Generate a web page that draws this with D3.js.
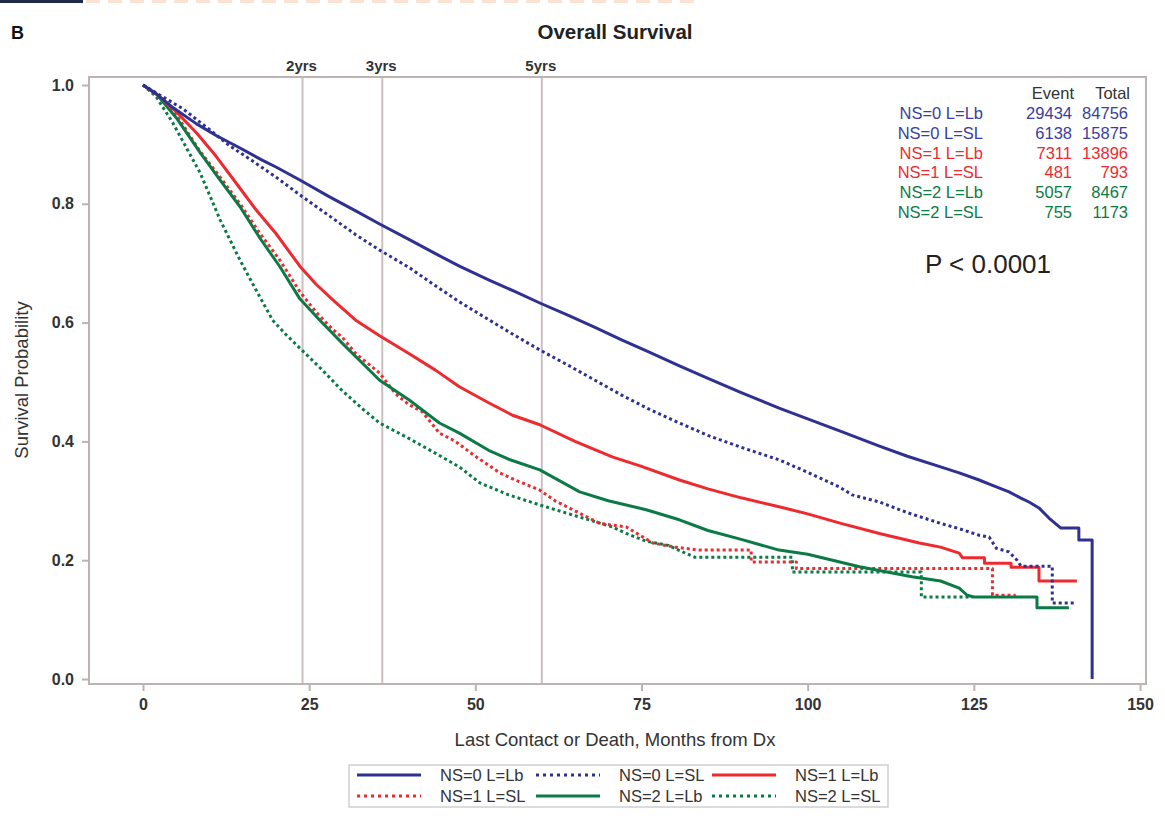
<!DOCTYPE html>
<html><head><meta charset="utf-8">
<script src="https://cdn.jsdelivr.net/npm/d3@7"></script>
<style>
body{margin:0;background:#fff;}
svg text{font-family:"Liberation Sans",Arial,sans-serif;}
</style></head>
<body>
<svg id="c" width="1165" height="822"></svg>
<script>
// ---- data ----
const seriesNames = ["NS=0 L=Lb","NS=0 L=SL","NS=1 L=Lb","NS=1 L=SL","NS=2 L=Lb","NS=2 L=SL"];
const events = [29434, 6138, 7311, 481, 5057, 755];
const totals = [84756, 15875, 13896, 793, 8467, 1173];
const ns0Lb = [[0,1],[2,0.985],[4.5,0.962],[8,0.935],[11,0.915],[14.6,0.894],[18,0.873],[20,0.862],[23.6,0.840],[28,0.812],[32,0.788],[35.6,0.766],[40,0.740],[44,0.716],[47.6,0.695],[52,0.672],[56,0.652],[59.7,0.633],[64,0.612],[68,0.592],[72,0.571],[76,0.551],[80.7,0.527],[85,0.506],[90,0.482],[95.7,0.456],[100,0.438],[105,0.417],[110.8,0.392],[115,0.375],[120,0.357],[122.8,0.347],[125.8,0.335],[128,0.325],[130.3,0.315],[132,0.305],[133.3,0.298],[134.8,0.288],[136.3,0.271],[138.1,0.254],[140.8,0.254],[140.8,0.234],[142.8,0.234],[142.8,0.0]];
const ns0SL = [[0,1],[3,0.98],[6,0.96],[10,0.925],[13,0.898],[16.1,0.875],[20,0.845],[23.6,0.815],[28,0.78],[32,0.748],[35.6,0.722],[40,0.693],[44,0.662],[47.6,0.635],[52,0.605],[56,0.578],[59.7,0.554],[64,0.528],[68,0.503],[72,0.478],[76,0.455],[80.7,0.431],[85,0.41],[90,0.39],[95.7,0.369],[100,0.348],[104.8,0.323],[106.7,0.310],[110.8,0.298],[115,0.28],[120,0.262],[122.8,0.253],[125.8,0.242],[127.3,0.239],[128.4,0.220],[130.3,0.214],[131.5,0.200],[132.1,0.190],[136.8,0.190],[136.8,0.128],[140.4,0.128]];
const ns1Lb = [[0,1],[2,0.985],[5,0.955],[8,0.92],[11,0.88],[14,0.835],[17,0.79],[20,0.75],[23.6,0.695],[26,0.665],[28.6,0.638],[30,0.624],[32,0.604],[35.6,0.578],[40,0.548],[44,0.52],[47.6,0.492],[52,0.465],[55.6,0.444],[59.7,0.428],[65,0.40],[70.6,0.374],[75,0.358],[80.7,0.335],[85,0.32],[90,0.305],[95.7,0.290],[100,0.278],[105,0.262],[110.8,0.245],[116.8,0.229],[120,0.222],[122.8,0.212],[123.3,0.204],[126.6,0.204],[126.6,0.195],[130.6,0.195],[130.6,0.188],[134.8,0.188],[134.8,0.165],[140.5,0.165]];
const ns1SL = [[0,1],[2,0.985],[5,0.95],[8.6,0.888],[11.6,0.845],[14.6,0.80],[17.6,0.75],[20.6,0.705],[23.6,0.652],[26,0.618],[28.6,0.588],[30,0.575],[32,0.548],[35.6,0.515],[38,0.48],[40,0.462],[42,0.45],[44.6,0.414],[47,0.40],[50,0.375],[53.7,0.347],[56,0.335],[59.7,0.318],[62,0.30],[65.7,0.279],[68.7,0.262],[72.7,0.256],[76.7,0.229],[80,0.222],[83.7,0.217],[91.5,0.217],[91.5,0.197],[98.3,0.197],[98.3,0.186],[127.8,0.186],[127.8,0.141],[131.3,0.141]];
const ns2Lb = [[0,1],[2,0.985],[5,0.945],[8.6,0.886],[11.6,0.84],[14.6,0.795],[17.6,0.742],[20.6,0.694],[23.6,0.640],[26.6,0.604],[30,0.565],[35.6,0.503],[40,0.47],[44.6,0.431],[47.6,0.414],[52,0.385],[55,0.37],[59.7,0.352],[65.7,0.315],[70,0.30],[75.7,0.285],[80.7,0.268],[85,0.25],[90,0.235],[95.7,0.217],[100,0.21],[107.8,0.189],[115.7,0.172],[120,0.165],[122.8,0.153],[124,0.141],[125,0.138],[134.5,0.138],[134.5,0.120],[139.3,0.120]];
const ns2SL = [[0,1],[2,0.98],[4.5,0.936],[6.5,0.895],[8.6,0.852],[11.6,0.773],[14.6,0.705],[17,0.655],[19.5,0.604],[21.5,0.58],[23.6,0.557],[27,0.52],[30,0.485],[33,0.455],[35.6,0.431],[40,0.405],[44,0.38],[47.6,0.357],[50.7,0.330],[55,0.31],[59.7,0.293],[65,0.275],[70.6,0.256],[72.7,0.245],[75.7,0.232],[79,0.225],[83,0.205],[97.7,0.205],[97.7,0.180],[117.1,0.180],[117.1,0.138],[124.8,0.138]];
const xTicks = [0,25,50,75,100,125,150];
const yTicks = [0,0.2,0.4,0.6,0.8,1.0];
const refLines = [24,36,60];
const refLabels = ["2yrs","3yrs","5yrs"];

// ---- styles ----
const colors = ["#2e3192","#2e3192","#ee2a2e","#ee2a2e","#0b7a46","#0b7a46"];
const dashed = [false,true,false,true,false,true];
const allSeries = [ns0Lb, ns0SL, ns1Lb, ns1SL, ns2Lb, ns2SL];
const frameCol = "#bdb3b3";
const txt = "#333";

const svg = d3.select("#c");
const x = d3.scaleLinear().domain([0,150]).range([143,1140]);
const y = d3.scaleLinear().domain([0,1]).range([679,85]);
const L = 89, R = 1146, T = 77, B = 684;

// top decoration
svg.append("rect").attr("x",0).attr("y",0).attr("width",83).attr("height",3).attr("fill","#1f2a4a");
svg.append("line").attr("x1",86).attr("x2",700).attr("y1",1.5).attr("y2",1.5)
  .attr("stroke","#fbe3d3").attr("stroke-width",3).attr("stroke-dasharray","14,8");

svg.append("text").attr("x",11).attr("y",39).attr("font-size",18).attr("font-weight","bold").attr("fill","#111").text("B");
svg.append("text").attr("x",615).attr("y",39).attr("text-anchor","middle").attr("font-size",20.5).attr("font-weight","bold").attr("fill","#222").text("Overall Survival");

// reference lines
refLines.forEach((m,i)=>{
  svg.append("line").attr("x1",x(m)).attr("x2",x(m)).attr("y1",T).attr("y2",B)
    .attr("stroke","#c9c0c0").attr("stroke-width",2);
  svg.append("text").attr("x",x(m)-1).attr("y",71).attr("text-anchor","middle")
    .attr("font-size",15).attr("font-weight","bold").attr("fill",txt).text(refLabels[i]);
});

// frame
svg.append("rect").attr("x",L).attr("y",T).attr("width",R-L).attr("height",B-T)
  .attr("fill","none").attr("stroke",frameCol).attr("stroke-width",2);

// axes
const xAxis = svg.append("g").attr("transform",`translate(0,${B})`)
  .call(d3.axisBottom(x).tickValues(xTicks).tickSize(7).tickPadding(8).tickFormat(d3.format("d")));
const yAxis = svg.append("g").attr("transform",`translate(${L},0)`)
  .call(d3.axisLeft(y).tickValues(yTicks).tickSize(7).tickPadding(8).tickFormat(d3.format(".1f")));
[xAxis,yAxis].forEach(a=>{
  a.attr("font-size",16);
  a.select(".domain").remove();
  a.selectAll(".tick line").attr("stroke",frameCol).attr("stroke-width",2);
  a.selectAll(".tick text").attr("font-size",16).attr("font-weight","bold").attr("fill",txt)
    .attr("font-family","Liberation Sans, Arial, sans-serif");
});

svg.append("text").attr("x",615).attr("y",746).attr("text-anchor","middle").attr("font-size",18.5).attr("fill",txt)
  .text("Last Contact or Death, Months from Dx");
svg.append("text").attr("transform","translate(28,380) rotate(-90)").attr("text-anchor","middle").attr("font-size",18.5).attr("fill",txt)
  .text("Survival Probability");

// curves
const line = d3.line().x(d=>x(d[0])).y(d=>y(d[1]));
const order = [5,3,4,2,1,0];
order.forEach(i=>{
  svg.append("path").datum(allSeries[i]).attr("d",line).attr("fill","none")
    .attr("stroke",colors[i]).attr("stroke-width",3)
    .attr("stroke-dasharray",dashed[i]?"3,3":null)
    .attr("stroke-linejoin","round");
});

// inset table
const rowY = d3.scaleLinear().domain([0,6]).range([99,218]);
svg.append("text").attr("x",1074).attr("y",rowY(0)).attr("text-anchor","end").attr("font-size",16.5).attr("fill",txt).text("Event");
svg.append("text").attr("x",1130).attr("y",rowY(0)).attr("text-anchor","end").attr("font-size",16.5).attr("fill",txt).text("Total");
seriesNames.forEach((n,i)=>{
  const c = i<2?"#3a3d9c":(i<4?"#ee2a2e":"#0b7a46");
  svg.append("text").attr("x",983).attr("y",rowY(i+1)).attr("text-anchor","end").attr("font-size",16.5).attr("fill",c).text(n);
  svg.append("text").attr("x",1072).attr("y",rowY(i+1)).attr("text-anchor","end").attr("font-size",16.5).attr("fill",c).text(events[i]);
  svg.append("text").attr("x",1128).attr("y",rowY(i+1)).attr("text-anchor","end").attr("font-size",16.5).attr("fill",c).text(totals[i]);
});
svg.append("text").attr("x",925).attr("y",273).attr("font-size",26).attr("fill","#222").text("P < 0.0001");

// bottom legend
svg.append("rect").attr("x",349).attr("y",765).attr("width",539).attr("height",42)
  .attr("fill","#fff").attr("stroke","#cfcfcf").attr("stroke-width",1.5);
const colX = [357,536,712];
const rowLY = [775,796];
seriesNames.forEach((n,i)=>{
  const cx = colX[i%3], cy = rowLY[Math.floor(i/3)];
  svg.append("line").attr("x1",cx).attr("x2",cx+64).attr("y1",cy).attr("y2",cy)
    .attr("stroke",colors[i]).attr("stroke-width",3).attr("stroke-dasharray",dashed[i]?"3,4":null);
  svg.append("text").attr("x",cx+83).attr("y",cy+6).attr("font-size",16.5).attr("fill",txt).text(n);
});
</script>
</body></html>
